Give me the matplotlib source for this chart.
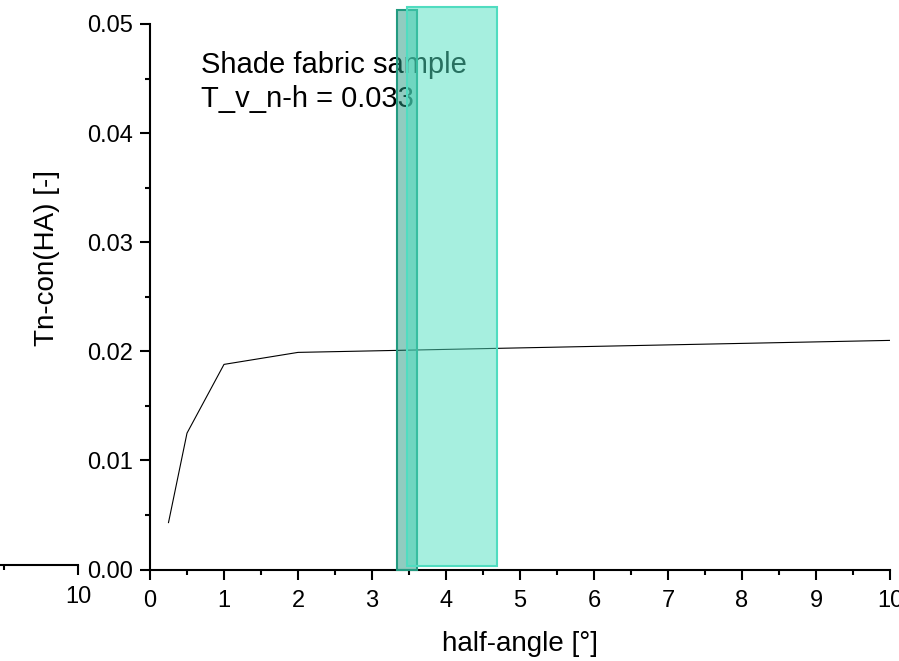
'''
Tn-con vs half-angle for the shade fabric sample.
'''

import numpy as np
import matplotlib.pyplot as plt
from matplotlib.patches import Rectangle
from matplotlib.ticker import MultipleLocator, FormatStrFormatter

plt.rcParams['font.family'] = ['Liberation Sans', 'DejaVu Sans']

################################################################
# Data
ha = [0.25, 0.5, 1.0, 2.0, 10.0]
tn = [0.0043, 0.0125, 0.0188, 0.0199, 0.0210]

# highlighted bands: x0, x1, y0, y1
band_dark = [3.34, 3.61, 0.0, 0.0513]
band_light = [3.47, 4.685, 0.00035, 0.0516]

label1 = 'Shade fabric sample'
label2 = 'T_v_n-h = 0.033'

################################################################
# Layout, pixels of a 899x661 canvas
W, H = 899., 661.
x_l, x_r = 150., 890.
y_b, y_t = 569.5, 24.
fs_tick = 17
fs_lab = 20
fs_txt = 21

fig = plt.figure(figsize=(W/100, H/100), dpi=100)

# clipped fragment of a neighbouring axis on the left
ax0 = fig.add_axes([-70/W, 1-565/H, 148/W, 0.05])
ax0.set_xlim(9, 10)
ax0.set_xticks([10])
ax0.xaxis.set_minor_locator(MultipleLocator(0.5))
ax0.set_yticks([])
for s in ['left', 'top', 'right']:
    ax0.spines[s].set_visible(False)
ax0.spines['bottom'].set_linewidth(1.5)
ax0.tick_params(axis='x', which='major', direction='out', length=7, width=1.5,
                labelsize=fs_tick, pad=8)
ax0.tick_params(axis='x', which='minor', direction='out', length=3.5, width=1.5)
ax0.patch.set_visible(False)

ax = fig.add_axes([x_l/W, 1-y_b/H, (x_r-x_l)/W, (y_b-y_t)/H])
ax.patch.set_visible(False)
ax.plot(ha, tn, color='k', lw=0.8, zorder=3)

ax.set_xlim(0, 10)
ax.set_ylim(0, 0.05)
ax.xaxis.set_major_locator(MultipleLocator(1))
ax.xaxis.set_minor_locator(MultipleLocator(0.5))
ax.yaxis.set_major_locator(MultipleLocator(0.01))
ax.yaxis.set_minor_locator(MultipleLocator(0.005))
ax.yaxis.set_major_formatter(FormatStrFormatter('%.2f'))
for s in ['top', 'right']:
    ax.spines[s].set_visible(False)
for s in ['left', 'bottom']:
    ax.spines[s].set_linewidth(1.5)
ax.tick_params(which='major', direction='out', length=7.5, width=1.5,
               labelsize=fs_tick, pad=5)
ax.tick_params(axis='x', which='major', pad=7)
ax.tick_params(which='minor', direction='out', length=3.8, width=1.5)
for t in ax.get_xticklabels():
    t.set_clip_on(False)

ax.text(0.69, 0.0455, label1, fontsize=fs_txt, va='baseline', ha='left', zorder=2)
ax.text(0.69, 0.0424, label2, fontsize=fs_txt, va='baseline', ha='left', zorder=2)

x0, x1, y0, y1 = band_dark
ax.add_patch(Rectangle((x0, y0), x1-x0, y1-y0, facecolor='#239a82', alpha=0.5,
                       edgecolor='none', clip_on=False, zorder=4))
ax.add_patch(Rectangle((x0, y0), x1-x0, y1-y0, facecolor='none',
                       edgecolor='#229a80', lw=1.5, clip_on=False, zorder=4))
x0, x1, y0, y1 = band_light
ax.add_patch(Rectangle((x0, y0), x1-x0, y1-y0, facecolor='#4fe0c0', alpha=0.5,
                       edgecolor='none', clip_on=False, zorder=5))
ax.add_patch(Rectangle((x0, y0), x1-x0, y1-y0, facecolor='none',
                       edgecolor='#50dcc0', lw=1.5, clip_on=False, zorder=5))

fig.text(520/W, 1-651/H, 'half-angle [°]', fontsize=fs_lab, ha='center', va='baseline')
fig.text(54/W, 1-258/H, 'Tn-con(HA) [-]', fontsize=fs_lab, ha='center', va='baseline',
         rotation=90, rotation_mode='anchor')

plt.savefig('out.png', dpi=100)
